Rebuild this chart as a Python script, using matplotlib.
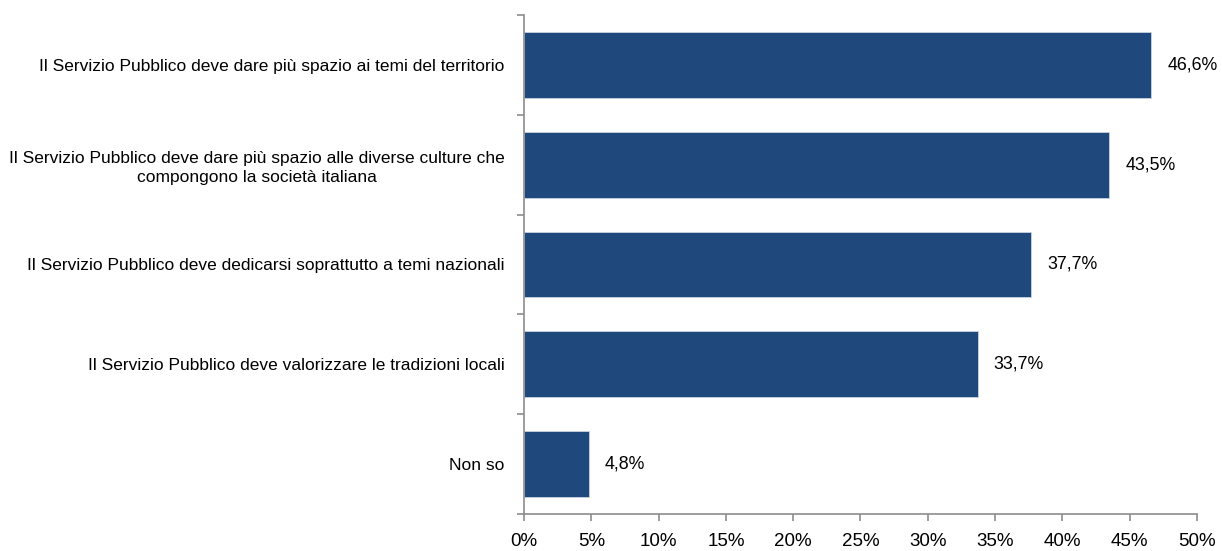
import matplotlib
matplotlib.use("Agg")
import matplotlib.pyplot as plt
from matplotlib.ticker import FuncFormatter, MultipleLocator
from matplotlib import font_manager

categories = [
    "Il Servizio Pubblico deve dare più spazio ai temi del territorio",
    "Il Servizio Pubblico deve dare più spazio alle diverse culture che\ncompongono la società italiana",
    "Il Servizio Pubblico deve dedicarsi soprattutto a temi nazionali",
    "Il Servizio Pubblico deve valorizzare le tradizioni locali",
    "Non so",
]
values = [46.6, 43.5, 37.7, 33.7, 4.8]

names = {f.name for f in font_manager.fontManager.ttflist}
family = [f for f in ["Liberation Sans Narrow", "Liberation Sans", "DejaVu Sans"] if f in names]
plt.rcParams["font.family"] = family

bar_color = "#1F497D"
spine_color = "#8C8C8C"

fig = plt.figure(figsize=(12.22, 5.51), dpi=100)
ax = fig.add_axes([0.4288, 0.0672, 0.5507, 0.9056])

n = len(categories)
ypos = list(range(n))
ax.barh(ypos, values, height=0.66, color=bar_color, edgecolor="#C9D3E0", linewidth=0.6)
ax.set_ylim(n - 0.5, -0.5)
ax.set_xlim(0, 50)

ax.xaxis.set_major_locator(MultipleLocator(5))
ax.xaxis.set_major_formatter(FuncFormatter(lambda v, p: f"{v:.0f}%"))
ax.set_yticks([i - 0.5 for i in range(n + 1)])
ax.set_yticklabels([])
ax.set_yticks(ypos, minor=True)
ax.set_yticklabels(categories, minor=True, ha="right", multialignment="center",
                   fontsize=12.5, linespacing=1.35)
ax.tick_params(axis="y", which="minor", length=0, pad=14)
ax.tick_params(axis="y", which="major", length=5, color=spine_color, width=1.2)
ax.tick_params(axis="x", length=5, color=spine_color, width=1.2, labelsize=13.5, pad=9)

for s in ["top", "right"]:
    ax.spines[s].set_visible(False)
for s in ["left", "bottom"]:
    ax.spines[s].set_color(spine_color)
    ax.spines[s].set_linewidth(1.2)

for y, v in zip(ypos, values):
    ax.text(v + 1.2, y, f"{v:.1f}%".replace(".", ","), va="center", ha="left", fontsize=12.8)

fig.savefig("out.png", dpi=100)
